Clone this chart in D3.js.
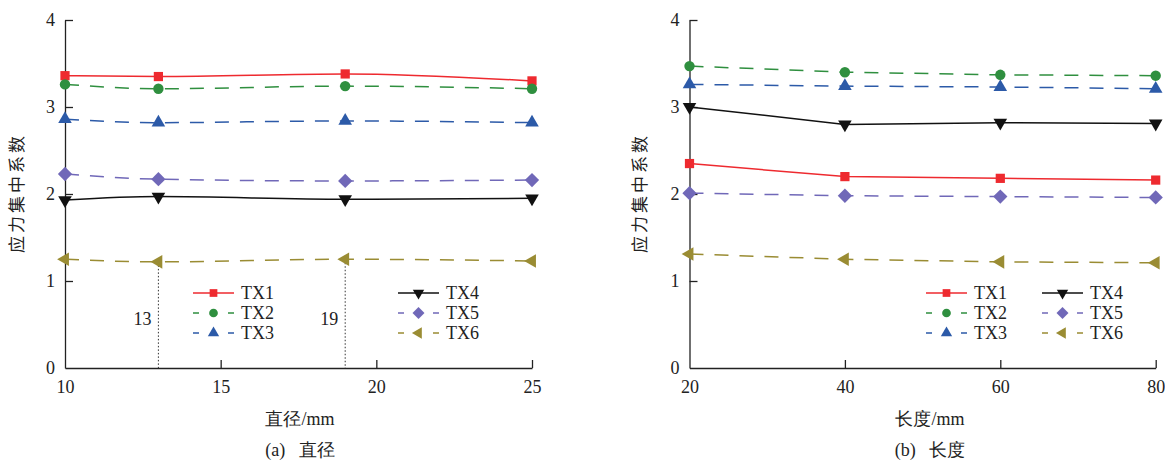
<!DOCTYPE html>
<html>
<head>
<meta charset="utf-8">
<script src="https://cdn.jsdelivr.net/npm/d3@7"></script>
<style>
  body { margin: 0; background: #ffffff; }
  svg { display: block; }
</style>
</head>
<body>
<div id="chart"></div>
<script>
// x categories
let diameters = [10, 13, 19, 25];
let lengths = [20, 40, 60, 80];
let seriesNames = ['TX1', 'TX2', 'TX3', 'TX4', 'TX5', 'TX6'];
let yTicks = [0, 1, 2, 3, 4];
let diaTicks = [10, 15, 20, 25];
let lenTicks = [20, 40, 60, 80];
let markedDiameters = [13, 19];

// (a) diameter
let dia_tx1 = [3.36, 3.35, 3.38, 3.30];
let dia_tx2 = [3.26, 3.21, 3.24, 3.21];
let dia_tx3 = [2.86, 2.82, 2.84, 2.82];
let dia_tx4 = [1.93, 1.97, 1.94, 1.95];
let dia_tx5 = [2.23, 2.17, 2.15, 2.16];
let dia_tx6 = [1.25, 1.22, 1.25, 1.23];

// (b) length
let len_tx1 = [2.35, 2.20, 2.18, 2.16];
let len_tx2 = [3.47, 3.40, 3.37, 3.36];
let len_tx3 = [3.26, 3.24, 3.23, 3.21];
let len_tx4 = [3.00, 2.80, 2.82, 2.81];
let len_tx5 = [2.01, 1.98, 1.97, 1.96];
let len_tx6 = [1.31, 1.25, 1.22, 1.21];

let colors = ['#ee2a2f', '#2f8f3f', '#2c5aa8', '#111111', '#7068b8', '#9a8c33'];
let dashed = [false, true, true, false, true, true];
let symbols = [d3.symbolSquare, d3.symbolCircle, d3.symbolTriangle, d3.symbolTriangle, d3.symbolDiamond2, d3.symbolTriangle];
let rotations = [0, 0, 0, 180, 0, -90];
let symSizes = [85, 85, 80, 80, 130, 80];

let width = 1165, height = 461;
let serif = '"Liberation Serif", "Times New Roman", serif';
let cjk = '"Noto Sans CJK SC", sans-serif';

let svg = d3.select('#chart').append('svg')
    .attr('width', width)
    .attr('height', height)
    .style('background-color', '#FFFFFF');

function draw_panel(cfg){
    let x = d3.scaleLinear().domain(cfg.xDomain).range(cfg.xRange);
    let y = d3.scaleLinear().domain([0, 4]).range([368, 20]);
    let g = svg.append('g');

    // axes
    let xAxis = d3.axisBottom(x).tickValues(cfg.xTicks).tickFormat(d3.format('d'))
        .tickSizeInner(-8).tickSizeOuter(0).tickPadding(12);
    let yAxis = d3.axisLeft(y).tickValues(yTicks).tickFormat(d3.format('d'))
        .tickSizeInner(-8).tickSizeOuter(0).tickPadding(10);

    let gx = g.append('g').attr('transform', 'translate(0,' + y(0) + ')').call(xAxis);
    let gy = g.append('g').attr('transform', 'translate(' + x(cfg.xDomain[0]) + ',0)').call(yAxis);
    [gx, gy].forEach(a => {
        a.select('.domain').attr('stroke', '#222').attr('stroke-width', 1.3);
        a.selectAll('.tick line').attr('stroke', '#222').attr('stroke-width', 1.3);
        a.selectAll('.tick text').attr('fill', '#222').style('font-family', serif).style('font-size', '18px');
    });
    gx.selectAll('.tick').filter(d => d === cfg.xDomain[0]).select('line').remove();
    gy.selectAll('.tick').filter(d => d === 0).select('line').remove();

    // guide lines (panel a)
    if(cfg.marks){
        cfg.marks.forEach(m => {
            let i = cfg.xs.indexOf(m);
            g.append('line')
                .attr('x1', x(m)).attr('x2', x(m))
                .attr('y1', y(cfg.series[5][i])).attr('y2', y(0))
                .attr('stroke', '#333').attr('stroke-width', 1)
                .attr('stroke-dasharray', '1.5,2');
            g.append('text')
                .attr('x', x(m) - 7).attr('y', 325)
                .attr('text-anchor', 'end')
                .style('font-family', serif).style('font-size', '18px')
                .attr('fill', '#222')
                .text(m);
        });
    }

    // series lines
    let line = d3.line()
        .x((d, i) => x(cfg.xs[i]))
        .y(d => y(d))
        .curve(cfg.curve);

    cfg.series.forEach((vals, k) => {
        g.append('path')
            .datum(vals)
            .attr('d', line)
            .attr('fill', 'none')
            .attr('stroke', colors[k])
            .attr('stroke-width', 1.5)
            .attr('stroke-dasharray', dashed[k] ? '14,11' : null);
    });
    cfg.series.forEach((vals, k) => {
        g.append('g').selectAll('path')
            .data(vals)
            .enter()
            .append('path')
            .attr('d', d3.symbol().type(symbols[k]).size(symSizes[k]))
            .attr('transform', (d, i) => 'translate(' + x(cfg.xs[i]) + ',' + y(d) + ') rotate(' + rotations[k] + ')')
            .attr('fill', colors[k]);
    });

    // y label
    g.append('text')
        .attr('transform', 'translate(' + cfg.yLabelX + ',193) rotate(-90)')
        .attr('text-anchor', 'middle')
        .attr('dy', '0.35em')
        .style('font-family', cjk).style('font-size', '17px')
        .style('letter-spacing', '3px')
        .attr('fill', '#222')
        .text('应力集中系数');

    // x label and caption
    g.append('text')
        .attr('x', cfg.labelX).attr('y', 425)
        .attr('text-anchor', 'middle')
        .style('font-family', serif).style('font-size', '18px')
        .attr('fill', '#222')
        .text(cfg.xLabel);
    g.append('text')
        .attr('x', cfg.labelX).attr('y', 456)
        .attr('text-anchor', 'middle')
        .style('font-family', serif).style('font-size', '18px')
        .style('white-space', 'pre')
        .attr('fill', '#222')
        .text(cfg.caption);

    // legend
    seriesNames.forEach((name, k) => {
        let col = Math.floor(k / 3), row = k % 3;
        let lx = cfg.legendX[col], ly = 293 + row * 20;
        let item = g.append('g').attr('transform', 'translate(' + lx + ',' + ly + ')');
        item.append('line')
            .attr('x1', 0).attr('x2', 41).attr('y1', 0).attr('y2', 0)
            .attr('stroke', colors[k]).attr('stroke-width', 1.5)
            .attr('stroke-dasharray', dashed[k] ? '6,29' : null);
        item.append('path')
            .attr('d', d3.symbol().type(symbols[k]).size(symSizes[k] * 0.7))
            .attr('transform', 'translate(20.5,0) rotate(' + rotations[k] + ')')
            .attr('fill', colors[k]);
        item.append('text')
            .attr('x', 48).attr('y', 6)
            .style('font-family', serif).style('font-size', '18px')
            .attr('fill', '#222')
            .text(name);
    });
}

draw_panel({
    xs: diameters,
    xDomain: [10, 25], xRange: [65, 532], xTicks: diaTicks,
    series: [dia_tx1, dia_tx2, dia_tx3, dia_tx4, dia_tx5, dia_tx6],
    curve: d3.curveMonotoneX,
    marks: markedDiameters,
    yLabelX: 17, labelX: 300,
    xLabel: '直径/mm', caption: '(a)\u00a0\u00a0\u00a0直径',
    legendX: [193, 398]
});

draw_panel({
    xs: lengths,
    xDomain: [20, 80], xRange: [689.5, 1155.7], xTicks: lenTicks,
    series: [len_tx1, len_tx2, len_tx3, len_tx4, len_tx5, len_tx6],
    curve: d3.curveLinear,
    marks: null,
    yLabelX: 640, labelX: 930,
    xLabel: '长度/mm', caption: '(b)\u00a0\u00a0\u00a0长度',
    legendX: [926, 1042]
});
</script>
</body>
</html>
